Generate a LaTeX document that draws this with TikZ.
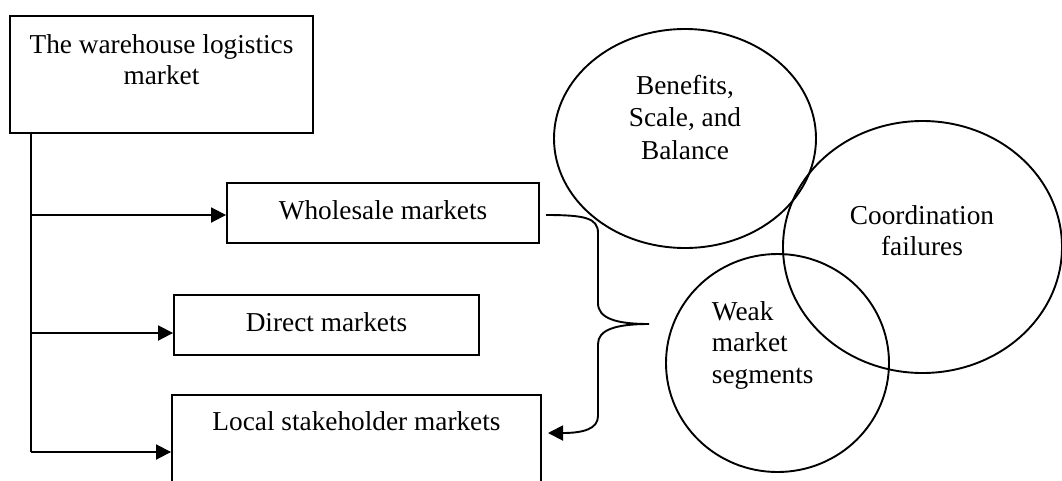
\documentclass[tikz,border=0pt]{standalone}
\usepackage{fontspec}
\setmainfont{Liberation Serif}
\usetikzlibrary{arrows.meta}
\usetikzlibrary{shapes.geometric}
\usetikzlibrary{positioning}
\tikzset{box/.style = {draw, rectangle, inner sep=0pt, text height=18.6pt, text depth=5pt},
         blob/.style = {draw, ellipse, inner sep=0pt},
         feed/.style = {-{Triangle[length=15pt, width=15pt]}},
         caption/.style = {inner sep=0pt}}

\begin{document}
\begin{tikzpicture}[x=1pt, y=-1pt, line width=1.9pt, font=\fontsize{27.3}{31}\selectfont]
    \useasboundingbox (0, 0) rectangle (1062, 480);
    \clip (0, 0) rectangle (1062, 480);
    % left column of boxes
    \node (market) at (161.5, 74.5) [box, minimum width=303pt, minimum height=117pt] {};
    \node at (market.north) [caption, anchor=north, yshift=-18.4pt, align=center] {The warehouse logistics\\market};
    \node (wholesale) at (383, 213) [box, minimum width=312pt, minimum height=60pt] {Wholesale markets};
    \node (direct) at (326.5, 325) [box, minimum width=305pt, minimum height=60pt] {Direct markets};
    \node (local) at (356.5, 394) [box, anchor=north, minimum width=369pt, inner ysep=17.4pt, text depth=62pt] {Local stakeholder markets};
    % the three circles
    \node (benefits) at (685, 138.5) [blob, minimum width=262pt, minimum height=219pt] {};
    \node (coordination) at (922.5, 247) [blob, minimum width=279pt, minimum height=252pt] {};
    \node (weak) at (777.5, 363) [blob, minimum width=223pt, minimum height=218pt] {};
    \node at (685, 74.3) [caption, anchor=north, align=center, font=\fontsize{27.3}{32.5}\selectfont] {Benefits,\\Scale, and\\Balance};
    \node at (922, 204.3) [caption, anchor=north, align=center] {Coordination\\failures};
    \node at (711, 300.3) [caption, anchor=north west, align=left, font=\fontsize{27.3}{31.5}\selectfont] {Weak\\market\\segments};
    % branches
    \coordinate (forkA) at (31, 215);
    \coordinate (forkB) at (31, 333);
    \coordinate (forkC) at (31, 452);
    \draw (market.south -| forkA) -- (forkC);
    \draw [feed] (forkA) -- (forkA -| wholesale.west);
    \draw [feed] (forkB) -- (forkB -| direct.west);
    \draw [feed] (forkC) -- (forkC -| local.west);
    % brace
    \coordinate (braceIn) at (546, 215);
    \coordinate (braceTip) at (649, 324);
    \coordinate (braceOut) at (548, 433);
    \draw [feed] (braceIn) .. controls (585, 215) and (598, 218) .. (598, 233)
        -- (598, 303) .. controls (598, 318) and (615, 324) .. (braceTip)
        .. controls (615, 324) and (598, 330) .. (598, 344)
        -- (598, 416) .. controls (598, 429) and (583, 433) .. (braceOut);
  \end{tikzpicture}
\end{document}
